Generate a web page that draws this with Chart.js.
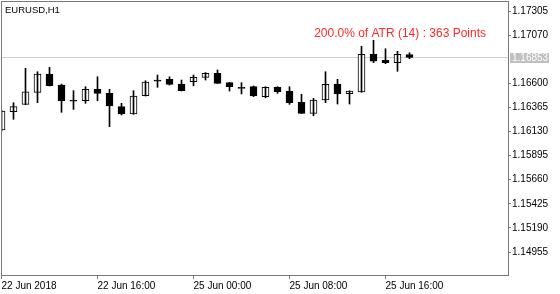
<!DOCTYPE html>
<html><head><meta charset="utf-8">
<script src="https://cdn.jsdelivr.net/npm/chart.js@4.4.1/dist/chart.umd.min.js"></script>
<style>html,body{margin:0;padding:0;background:#fff}#wrap{width:560px;height:294px}</style>
</head><body><div id="wrap"><canvas id="c"></canvas></div>
<script>
/* ===== data ===== */
const SYMBOL='EURUSD,H1';
const NOTE='200.0% of ATR (14) : 363 Points';
const OPEN =[1.16145,1.16323,1.16395,1.16512,1.16691,1.16583,1.16428,1.16430,1.16541,1.16502,1.16372,1.16301,1.16479,1.16623,1.16639,1.16593,1.16615,1.16658,1.16697,1.16606,1.16552,1.16567,1.16469,1.16561,1.16525,1.16415,1.16307,1.16437,1.16593,1.16498,1.16515,1.16883,1.16824,1.16801,1.16881];
const HIGH =[1.16340,1.16411,1.16746,1.16713,1.16756,1.16593,1.16528,1.16567,1.16664,1.16541,1.16405,1.16528,1.16625,1.16681,1.16664,1.16632,1.16681,1.16705,1.16730,1.16608,1.16606,1.16574,1.16567,1.16567,1.16567,1.16493,1.16454,1.16713,1.16639,1.16527,1.16961,1.17019,1.16937,1.16912,1.16898];
const LOW  =[1.16135,1.16249,1.16393,1.16411,1.16574,1.16317,1.16346,1.16405,1.16430,1.16177,1.16291,1.16298,1.16476,1.16561,1.16583,1.16525,1.16576,1.16632,1.16598,1.16525,1.16496,1.16471,1.16459,1.16502,1.16395,1.16305,1.16284,1.16411,1.16398,1.16398,1.16512,1.16801,1.16791,1.16717,1.16840];
const CLOSE=[1.16330,1.16372,1.16518,1.16691,1.16576,1.16430,1.16426,1.16541,1.16502,1.16379,1.16301,1.16476,1.16613,1.16621,1.16590,1.16528,1.16658,1.16697,1.16600,1.16567,1.16550,1.16476,1.16561,1.16518,1.16411,1.16307,1.16437,1.16590,1.16496,1.16525,1.16883,1.16817,1.16801,1.16883,1.16853];
const BID=1.16853;
const Y_TICKS=[1.17305,1.17070,1.16600,1.16365,1.16130,1.15895,1.15660,1.15425,1.15190,1.14955];
const X_TICKS=[0,8,16,24,32];
const X_LABELS=['22 Jun 2018','22 Jun 16:00','25 Jun 00:00','25 Jun 08:00','25 Jun 16:00'];

/* ===== style ===== */
const FONT='Liberation Sans', FRAME='#787878';

/* ---------- plugins ---------- */
const bidLine={id:'bidLine',beforeDatasetsDraw(c){
  const {ctx,chartArea:{left,right},scales:{y}}=c,py=Math.round(y.getPixelForValue(BID))+0.5;
  ctx.save(); ctx.strokeStyle='#cfcfcf'; ctx.lineWidth=1;
  ctx.beginPath(); ctx.moveTo(left,py); ctx.lineTo(right,py); ctx.stroke(); ctx.restore();}};
const deco={id:'deco',afterDraw(c){
  const {ctx,chartArea:{left,right,top,bottom},scales:{y}}=c;
  ctx.save();
  ctx.strokeStyle=FRAME; ctx.lineWidth=1;
  ctx.strokeRect(left+0.5,top-0.5,right-left,bottom-top);
  // bid label
  const py=Math.round(y.getPixelForValue(BID));
  ctx.fillStyle='#c0c0c0'; ctx.fillRect(right+2,py-4,39,10);
  ctx.fillStyle='#fff'; ctx.font='10px "'+FONT+'"'; ctx.textBaseline='middle'; ctx.textAlign='left';
  ctx.fillText(BID.toFixed(5),right+4,py+1);
  // symbol
  ctx.fillStyle='#000'; ctx.font='9.5px "'+FONT+'"'; ctx.textBaseline='alphabetic';
  ctx.fillText(SYMBOL,5,13);
  // note
  ctx.fillStyle='#ff2a2a'; ctx.font='12px "'+FONT+'"'; ctx.textAlign='right';
  ctx.fillText(NOTE,486,37);
  ctx.restore();}};

/* ---------- chart ---------- */
const idx=OPEN.map((_,i)=>i);
new Chart(document.getElementById('c'),{
  type:'bar',
  data:{datasets:[
    {data:idx.map(i=>({x:i,y:[LOW[i],HIGH[i]]})),backgroundColor:'#000',borderWidth:0,barThickness:1,grouped:false},
    {data:idx.map(i=>({x:i,y:[OPEN[i],CLOSE[i]]})),
     backgroundColor:idx.map(i=>CLOSE[i]>=OPEN[i]?'#fff':'#000'),
     borderColor:'#000',borderWidth:1,borderSkipped:false,barThickness:7,minBarLength:1,grouped:false}
  ]},
  options:{
    responsive:true,maintainAspectRatio:false,animation:false,devicePixelRatio:1,
    layout:{padding:{left:1,top:2,right:0,bottom:0}},
    plugins:{legend:{display:false},tooltip:{enabled:false}},
    scales:{
      x:{type:'linear',offset:false,min:-0.5/12,max:-0.5/12+507/12,
         afterBuildTicks:s=>{s.ticks=X_TICKS.map(v=>({value:v}));},
         afterFit:s=>{s.height=18;s.paddingLeft=0;s.paddingRight=0;},
         grid:{offset:false,drawOnChartArea:false,drawTicks:true,tickLength:3,color:FRAME},
         border:{display:false},
         ticks:{autoSkip:false,maxRotation:0,align:'start',padding:1,color:'#000',
                font:{family:FONT,size:10},callback:(v,i)=>X_LABELS[i]}},
      y:{position:'right',min:1.147213,max:1.173928,beginAtZero:false,
         afterBuildTicks:s=>{s.ticks=Y_TICKS.map(v=>({value:v}));},
         afterFit:s=>{s.width=52;s.paddingTop=0;s.paddingBottom=0;},
         grid:{drawOnChartArea:false,drawTicks:true,tickLength:3,color:FRAME},
         border:{display:false},
         ticks:{padding:1,color:'#000',font:{family:FONT,size:10},callback:v=>v.toFixed(5)}}
    }
  },
  plugins:[bidLine,deco]
});
</script></body></html>
